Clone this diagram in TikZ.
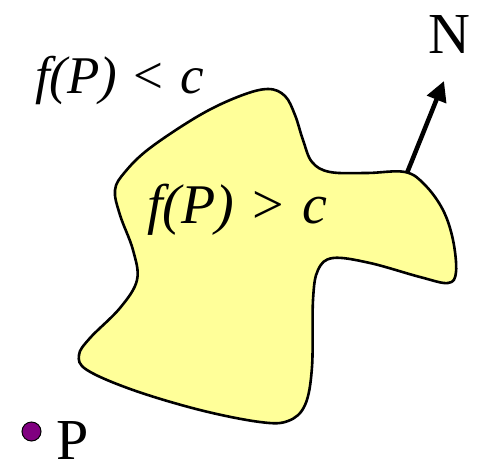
\documentclass[tikz,border=0pt]{standalone}
\usepackage{fontspec}
\setmainfont{Liberation Serif}
\usetikzlibrary{arrows.meta}
\definecolor{blobfill}{RGB}{255,255,153}
\definecolor{dotfill}{RGB}{128,0,128}
\begin{document}
\begin{tikzpicture}[x=1pt,y=-1pt,
  lbl/.style={inner sep=0pt,anchor=base west},
  big/.style={inner sep=0pt,anchor=base,font=\fontsize{58}{60}\selectfont}]
\useasboundingbox (0,0) rectangle (477,467);
% blob
\draw[line width=2.6pt,fill=blobfill] plot[smooth cycle,tension=0.6] coordinates {
(268,89) (285,96) (295,115) (303,140) (312,162) (330,172) (367,173) (405,172)
(425,185) (443,210) (453,240) (456,272) (448,283) (420,277) (370,263) (333,258)
(318,270) (313,300) (312,367) (305,405) (288,421) (260,422) (200,410) (133,390)
(87,370) (79,355) (90,338) (120,308) (137,280) (133,250) (120,215) (115,190)
(125,172) (150,148) (200,115) (240,96)};
% normal arrow
\coordinate (base) at (407,173);
\coordinate (tip) at (444,81);
\draw[line width=4.5pt,-{Triangle[length=20pt,width=20pt]}] (base) -- (tip);
\node[big] (N) at (449,53) {N};
% labels
\node[lbl,font=\fontsize{53}{55}\selectfont] (out) at (35,93)
  {\itshape f(P)\hspace{0.3em}\upshape<\hspace{0.32em}\itshape c};
\node[lbl,font=\fontsize{56}{58}\selectfont] (in) at (147,223)
  {\itshape f(P)\hspace{0.32em}\upshape>\hspace{0.34em}\itshape c};
% point P
\node[circle,draw,line width=1pt,fill=dotfill,minimum size=19pt,inner sep=0pt] (dot) at (31.5,431.5) {};
\node[big,anchor=base west] (P) at (56,459) {P};
\end{tikzpicture}
\end{document}
